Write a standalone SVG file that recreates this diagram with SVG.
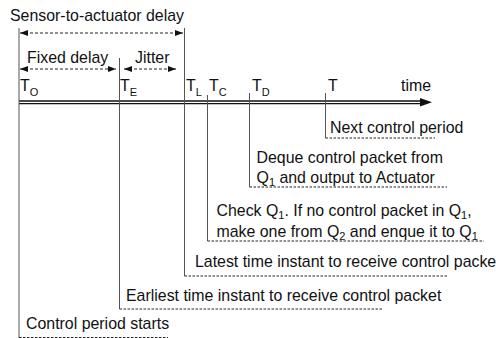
<svg xmlns="http://www.w3.org/2000/svg" width="496" height="338" viewBox="0 0 496 338">
<style>
text{font-family:"Liberation Sans",Arial,sans-serif;font-size:15.9px;fill:#111}
.sub{font-size:11px}
.tick{stroke:#555;stroke-width:1;fill:none}
.under{stroke:#222;stroke-width:1;stroke-dasharray:2.5,1.5;fill:none}
.span{stroke:#222;stroke-width:1;stroke-dasharray:3,2;fill:none}
.axis{stroke:#111;stroke-width:1.3;fill:none}
</style>
<defs>
<marker id="ah" viewBox="0 0 8 6" refX="8" refY="3" markerWidth="8" markerHeight="6" orient="auto-start-reverse" markerUnits="userSpaceOnUse">
<path d="M0,0 L8,3 L0,6 Z" fill="#111"/>
</marker>
</defs>
<rect width="496" height="338" fill="#fff"/>

<g id="connectors">
<line class="axis" x1="19" y1="101" x2="424" y2="101"/>
<line class="axis" x1="19" y1="103.6" x2="424" y2="103.6"/>
<path d="M420,98 L432,102.3 L420,106.6 Z" fill="#111"/>
<line class="span" x1="20" y1="33" x2="183" y2="33" marker-start="url(#ah)" marker-end="url(#ah)"/>
<line class="span" x1="20" y1="69" x2="116" y2="69" marker-start="url(#ah)" marker-end="url(#ah)"/>
<line class="span" x1="124" y1="69" x2="176" y2="69" marker-start="url(#ah)" marker-end="url(#ah)"/>
</g>

<g id="labels">
<text x="10" y="21">Sensor-to-actuator delay</text>
<text x="27" y="63">Fixed delay</text>
<text x="135" y="63">Jitter</text>
<text x="401" y="91">time</text>
</g>

<g id="node-TO">
<line class="tick" x1="19" y1="28" x2="19" y2="338"/>
<text x="20" y="91">T<tspan class="sub" dy="5">O</tspan></text>
<text x="26" y="329">Control period starts</text>
<line class="under" x1="19" y1="337.5" x2="168" y2="337.5"/>
</g>

<g id="node-TE">
<line class="tick" x1="119.5" y1="58" x2="119.5" y2="309"/>
<text x="120" y="91">T<tspan class="sub" dy="5">E</tspan></text>
<text x="126" y="301">Earliest time instant to receive control packet</text>
<line class="under" x1="119.5" y1="309" x2="382" y2="309"/>
</g>

<g id="node-TL">
<line class="tick" x1="184.5" y1="28" x2="184.5" y2="276"/>
<text x="186" y="91">T<tspan class="sub" dy="5">L</tspan></text>
<text x="195" y="267">Latest time instant to receive control packe</text>
<line class="under" x1="184.5" y1="276" x2="447" y2="276"/>
</g>

<g id="node-TC">
<line class="tick" x1="207.5" y1="95" x2="207.5" y2="241"/>
<text x="209" y="91">T<tspan class="sub" dy="5">C</tspan></text>
<text x="216.5" y="216">Check Q<tspan class="sub" dy="3">1</tspan><tspan dy="-3">. If no control packet in Q</tspan><tspan class="sub" dy="3">1</tspan><tspan dy="-3">,</tspan></text>
<text x="216.5" y="237">make one from Q<tspan class="sub" dy="3">2</tspan><tspan dy="-3"> and enque it to Q</tspan><tspan class="sub" dy="3">1</tspan></text>
<line class="under" x1="207.5" y1="241" x2="484" y2="241"/>
</g>

<g id="node-TD">
<line class="tick" x1="249.5" y1="93" x2="249.5" y2="187"/>
<text x="252" y="91">T<tspan class="sub" dy="5">D</tspan></text>
<text x="256.5" y="163">Deque control packet from</text>
<text x="256.5" y="183">Q<tspan class="sub" dy="3">1</tspan><tspan dy="-3"> and output to Actuator</tspan></text>
<line class="under" x1="249.5" y1="187" x2="447" y2="187"/>
</g>

<g id="node-T">
<line class="tick" x1="325.5" y1="93" x2="325.5" y2="138"/>
<text x="328" y="91">T</text>
<text x="330" y="133">Next control period</text>
<line class="under" x1="325.5" y1="138" x2="435" y2="138"/>
</g>
</svg>
